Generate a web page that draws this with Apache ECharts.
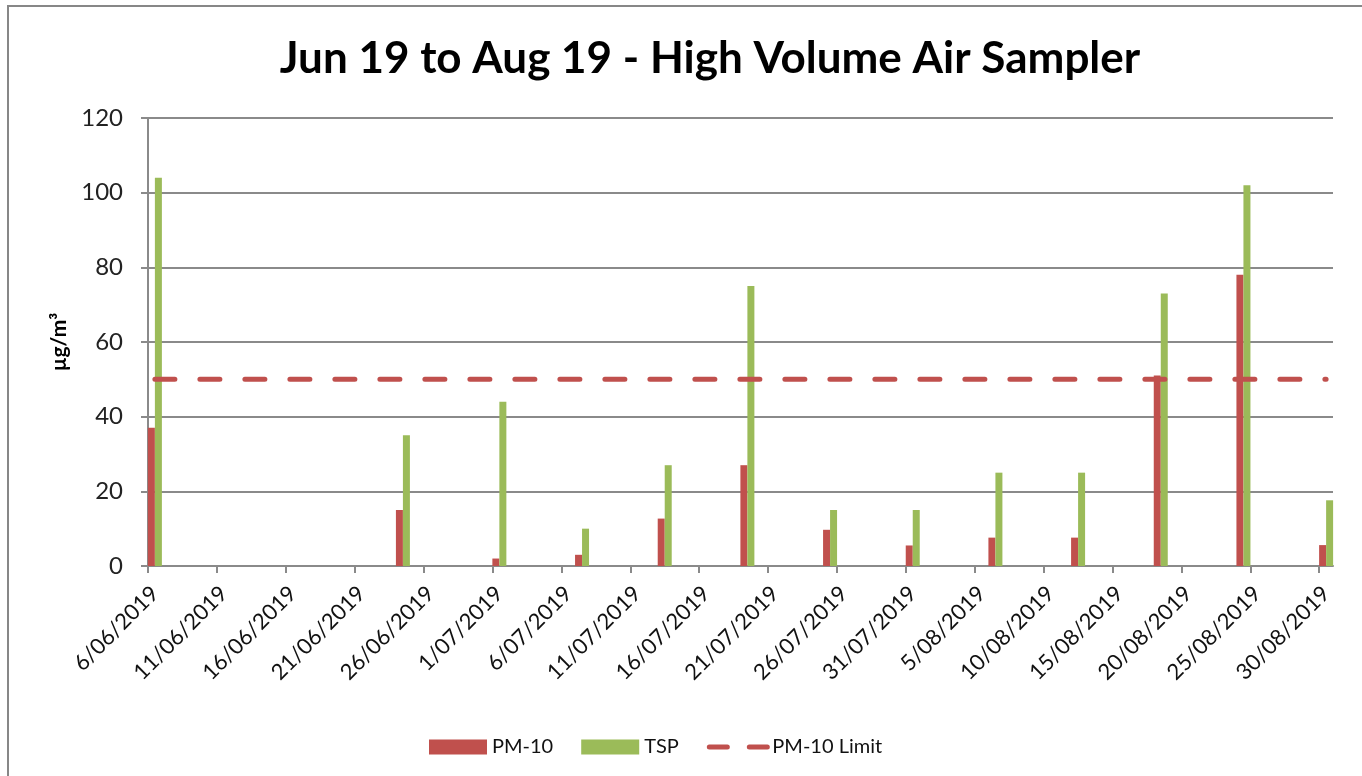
<!DOCTYPE html>
<html>
<head>
<meta charset="utf-8">
<title>High Volume Air Sampler</title>
<script src="https://cdn.jsdelivr.net/npm/echarts@6/dist/echarts.min.js"></script>
<style>
  html, body { margin: 0; padding: 0; background: #fff; }
  #chart { width: 1362px; height: 776px; }
</style>
</head>
<body>
<div id="chart"></div>
<script>
// sample dates (d/mm/yyyy) and readings in µg/m³
var sampleDates = ['6/06/2019', '24/06/2019', '1/07/2019', '7/07/2019', '13/07/2019', '19/07/2019',
  '25/07/2019', '31/07/2019', '6/08/2019', '12/08/2019', '18/08/2019', '24/08/2019', '30/08/2019'];
var pm10 = [37, 15, 2, 3, 12.7, 27, 9.7, 5.5, 7.6, 7.6, 51, 78, 5.6];
var tsp = [104, 35, 44, 10, 27, 75, 15, 15, 25, 25, 73, 102, 17.6];
var pm10Limit = [50, 50, 50, 50, 50, 50, 50, 50, 50, 50, 50, 50, 50];

// date axis: one slot per day, labels every 5 days
var axisStart = '6/06/2019';
var axisDays = 86;
var xTickLabels = ['6/06/2019', '11/06/2019', '16/06/2019', '21/06/2019', '26/06/2019', '1/07/2019',
  '6/07/2019', '11/07/2019', '16/07/2019', '21/07/2019', '26/07/2019', '31/07/2019', '5/08/2019',
  '10/08/2019', '15/08/2019', '20/08/2019', '25/08/2019', '30/08/2019'];
var yMin = 0, yMax = 120, yStep = 20;

function parseDay(s) {
  var p = s.split('/');
  return Date.UTC(+p[2], +p[1] - 1, +p[0]) / 86400000;
}
var day0 = parseDay(axisStart);
function slot(s) { return parseDay(s) - day0 + 0.5; }   // centre of the day's slot

// ticks sit at the start of a day, labels in the middle of it (like Excel's date axis)
var tickPos = xTickLabels.map(function (s) { return parseDay(s) - day0; });
var labelPos = xTickLabels.map(function (s) { return slot(s); });
var labelByPos = {};
labelPos.forEach(function (p, i) { labelByPos[p] = xTickLabels[i]; });

function pairs(vals) {
  return sampleDates.map(function (d, i) { return [slot(d), vals[i]]; });
}

var FONT = 'Lato, "Open Sans", sans-serif';
var GRID_GREY = '#8a8a8a';
var RED = '#C0504D';
var GREEN = '#9BBB59';

var myChart = echarts.init(document.getElementById('chart'), null, { renderer: 'canvas' });
var option = {
  backgroundColor: '#fff',
  animation: false,
  textStyle: { fontFamily: FONT },
  title: {
    text: 'Jun 19 to Aug 19 - High Volume Air Sampler',
    left: 705,
    textAlign: 'center',
    top: 32,
    textStyle: { fontSize: 44, fontWeight: 'bold', color: '#000', fontFamily: FONT }
  },
  graphic: [{
    type: 'rect',
    shape: { x: 8, y: 6, width: 1400, height: 800 },
    style: { fill: 'none', stroke: '#878787', lineWidth: 2 },
    silent: true
  }],
  legend: {
    left: 424,
    top: 732,
    itemWidth: 58,
    itemHeight: 15,
    itemGap: 28,
    textStyle: { fontSize: 20, color: '#111', fontFamily: FONT },
    data: [
      { name: 'PM-10', icon: 'rect' },
      { name: 'TSP', icon: 'rect' },
      {
        name: 'PM-10 Limit',
        itemStyle: { opacity: 0 },
        lineStyle: { color: RED, width: 5, type: [18, 22], cap: 'round' }
      }
    ]
  },
  grid: {
    left: 148,
    right: 29,
    top: 118,
    bottom: 210,
    containLabel: false
  },
  xAxis: {
    type: 'value',
    min: 0,
    max: axisDays,
    splitLine: { show: false },
    axisLine: { show: true, lineStyle: { color: GRID_GREY, width: 2 } },
    axisTick: { show: true, length: 7, lineStyle: { color: GRID_GREY, width: 2 }, customValues: tickPos },
    axisLabel: {
      customValues: labelPos,
      rotate: 45,
      margin: 24,
      fontSize: 22,
      color: '#111',
      fontFamily: FONT,
      formatter: function (v) { return labelByPos[v] || ''; }
    }
  },
  yAxis: {
    type: 'value',
    min: yMin,
    max: yMax,
    interval: yStep,
    name: 'µg/m³',
    nameLocation: 'middle',
    nameRotate: 90,
    nameGap: 78,
    nameTextStyle: { fontSize: 21, fontWeight: 'bold', color: '#000', fontFamily: FONT },
    axisLine: { show: true, lineStyle: { color: GRID_GREY, width: 2 } },
    axisTick: { show: true, length: 7, lineStyle: { color: GRID_GREY, width: 2 } },
    axisLabel: { fontSize: 24, color: '#222', margin: 25, fontFamily: FONT },
    splitLine: { show: true, lineStyle: { color: GRID_GREY, width: 2 } }
  },
  series: [
    {
      name: 'PM-10',
      type: 'bar',
      barWidth: 7,
      barGap: '0%',
      itemStyle: { color: RED },
      data: pairs(pm10)
    },
    {
      name: 'TSP',
      type: 'bar',
      barWidth: 7,
      barGap: '0%',
      itemStyle: { color: GREEN },
      data: pairs(tsp)
    },
    {
      name: 'PM-10 Limit',
      type: 'line',
      symbol: 'none',
      z: 5,
      lineStyle: { color: RED, width: 5, type: [20, 25], cap: 'round' },
      itemStyle: { color: RED },
      data: pairs(pm10Limit)
    }
  ]
};

option && myChart.setOption(option);
</script>
</body>
</html>
